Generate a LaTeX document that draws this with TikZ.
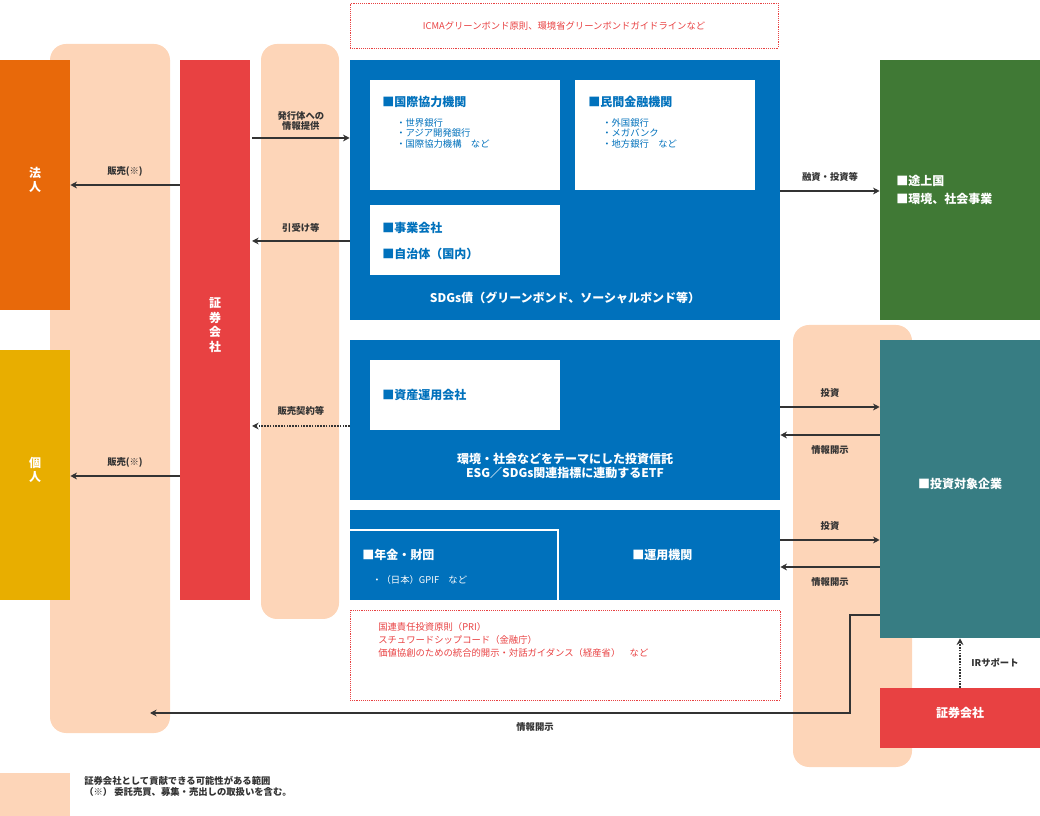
\documentclass[tikz,border=0pt]{standalone}
\usepackage{fontspec}
\setmainfont{Noto Sans CJK JP}
\newfontfamily\jpbold{Noto Sans CJK JP Bold}
\usetikzlibrary{positioning,fit,arrows.meta}
\definecolor{peach}{HTML}{FDD5B8}
\definecolor{corp}{HTML}{E8690A}
\definecolor{indiv}{HTML}{E8AE00}
\definecolor{secred}{HTML}{E84142}
\definecolor{sdgblue}{HTML}{0071BC}
\definecolor{devgreen}{HTML}{407935}
\definecolor{firmteal}{HTML}{377D83}
\definecolor{notered}{HTML}{E84142}
\definecolor{ink}{HTML}{333333}
\tikzset{
  area/.style={fill=peach,draw=none,rounded corners=12pt,inner sep=0pt},
  block/.style={draw=none,inner sep=0pt,text=white,font=\bfseries\small,align=center},
  wbox/.style={fill=white,draw=none,inner sep=0pt},
  note/.style={draw=notered,densely dotted,inner sep=0pt},
  btxt/.style={text=sdgblue,font=\bfseries\small,anchor=west,inner sep=0pt},
  stxt/.style={text=sdgblue,font=\scriptsize,anchor=west,inner sep=0pt},
  rtxt/.style={text=notered,font=\scriptsize,anchor=west,inner sep=0pt},
  wtxt/.style={text=white,font=\bfseries\small,anchor=west,inner sep=0pt},
  lbl/.style={text=ink,font=\bfseries\scriptsize,align=center,inner sep=0pt},
  arr/.style={ink,line width=1.1pt,-{Stealth[length=5pt,width=5pt]}}
}
\begin{document}
\begin{tikzpicture}[x=0.75pt,y=-0.75pt]
\useasboundingbox (0,0) rectangle (1040,816);
% peach areas
\node[area,fit={(50,44)(170,733)}] (zone1) {};
\node[area,fit={(261,44)(339,619)}] (zone2) {};
\node[area,fit={(793,325)(912,767)}] (zone3) {};
% investors
\node[block,fill=corp,fit={(0,60)(70,310)}] (hojin) {法\\人};
\node[block,fill=indiv,fit={(0,350)(70,600)}] (kojin) {個\\人};
\node[block,fill=secred,fit={(180,60)(250,600)}] (sec) {証\\券\\会\\社};
% top note
\node[note,fit={(350,3)(778,48)}] (guide) {};
\node[text=notered,font=\scriptsize] at (guide.center) {ICMAグリーンボンド原則、環境省グリーンボンドガイドラインなど};
% SDGs bonds
\node[block,fill=sdgblue,fit={(350,60)(780,320)}] (sdg) {};
\node[wbox,fit={(370,80)(560,190)}] (intl) {};
\node[wbox,fit={(575,80)(755,190)}] (priv) {};
\node[wbox,fit={(370,205)(560,275)}] (corpo) {};
\node[btxt] at (382,102) {■国際協力機関};
\node[stxt,align=left,anchor=north west] at (396,118) {・世界銀行\\・アジア開発銀行\\・国際協力機構　など};
\node[btxt] at (588,102) {■民間金融機関};
\node[stxt,align=left,anchor=north west] at (602,118) {・外国銀行\\・メガバンク\\・地方銀行　など};
\node[btxt] at (382,228) {■事業会社};
\node[btxt] at (382,254) {■自治体（国内）};
\node[wtxt,anchor=center] at (565,298) {SDGs債（グリーンボンド、ソーシャルボンド等）};
% funds
\node[block,fill=sdgblue,fit={(350,340)(780,500)}] (fund) {};
\node[wbox,fit={(370,360)(560,430)}] (asset) {};
\node[btxt] at (382,395) {■資産運用会社};
\node[wtxt,anchor=center,align=center] at (565,466) {環境・社会などをテーマにした投資信託\\ESG／SDGs関連指標に連動するETF};
% pensions
\node[block,fill=sdgblue,fit={(350,510)(780,600)}] (pension) {};
\draw[white,line width=1.2pt] (350,530) -- (558,530) -- (558,600);
\node[wtxt] at (362,555) {■年金・財団};
\node[text=white,font=\scriptsize,anchor=west,inner sep=0pt] at (372,580) {・（日本）GPIF　など};
\node[wtxt] at (632,555) {■運用機関};
% bottom note
\node[note,fit={(350,610)(780,700)}] (prin) {};
\node[rtxt,align=left,anchor=north west] at (378,622) {国連責任投資原則（PRI）\\[2pt]スチュワードシップコード（金融庁）\\[2pt]価値協創のための統合的開示・対話ガイダンス（経産省）　など};
% right side
\node[block,fill=devgreen,fit={(880,60)(1040,320)}] (dev) {};
\node[wtxt,align=left,anchor=west] at (896,190) {■途上国\\[3pt]■環境、社会事業};
\node[block,fill=firmteal,fit={(880,340)(1040,638)}] (firm) {■投資対象企業};
\node[block,fill=secred,fit={(880,688)(1040,748)}] (sec2) {証券会社};
% arrows
\draw[arr] (sec.west |- 0,185) -- node[lbl,above=6pt] {販売(※)} (hojin.east |- 0,185);
\draw[arr] (sec.west |- 0,476) -- node[lbl,above=6pt] {販売(※)} (kojin.east |- 0,476);
\draw[arr] (252,138) -- node[lbl,above=5pt] {発行体への\\情報提供} (sdg.west |- 0,138);
\draw[arr] (sdg.west |- 0,241) -- node[lbl,above=6pt] {引受け等} (252,241);
\draw[arr,densely dotted] (fund.west |- 0,426) -- node[lbl,above=7pt] {販売契約等} (252,426);
\draw[arr] (sdg.east |- 0,191) -- node[lbl,above=7pt] {融資・投資等} (dev.west |- 0,191);
\draw[arr] (fund.east |- 0,407) -- node[lbl,above=7pt] {投資} (firm.west |- 0,407);
\draw[arr] (firm.west |- 0,435) -- node[lbl,below=7pt] {情報開示} (fund.east |- 0,435);
\draw[arr] (pension.east |- 0,540) -- node[lbl,above=7pt] {投資} (firm.west |- 0,540);
\draw[arr] (firm.west |- 0,567) -- node[lbl,below=7pt] {情報開示} (pension.east |- 0,567);
\coordinate (disc) at (150,713);
\draw[arr,line width=0.8pt] (firm.west |- 0,615) -- (850,615) -- (850,713) -- node[lbl,below=7pt,pos=0.45] {情報開示} (disc);
\draw[arr,densely dotted] (sec2.north -| 960,0) -- node[lbl,right=8pt,anchor=west] {IRサポート} (firm.south -| 960,0);
% legend
\node[area,rounded corners=0pt,fit={(0,773)(70,816)}] (legend) {};
\node[lbl,align=left,anchor=north west] at (84,776) {証券会社として貢献できる可能性がある範囲\\（※） 委託売買、募集・売出しの取扱いを含む。};
\end{tikzpicture}
\end{document}
